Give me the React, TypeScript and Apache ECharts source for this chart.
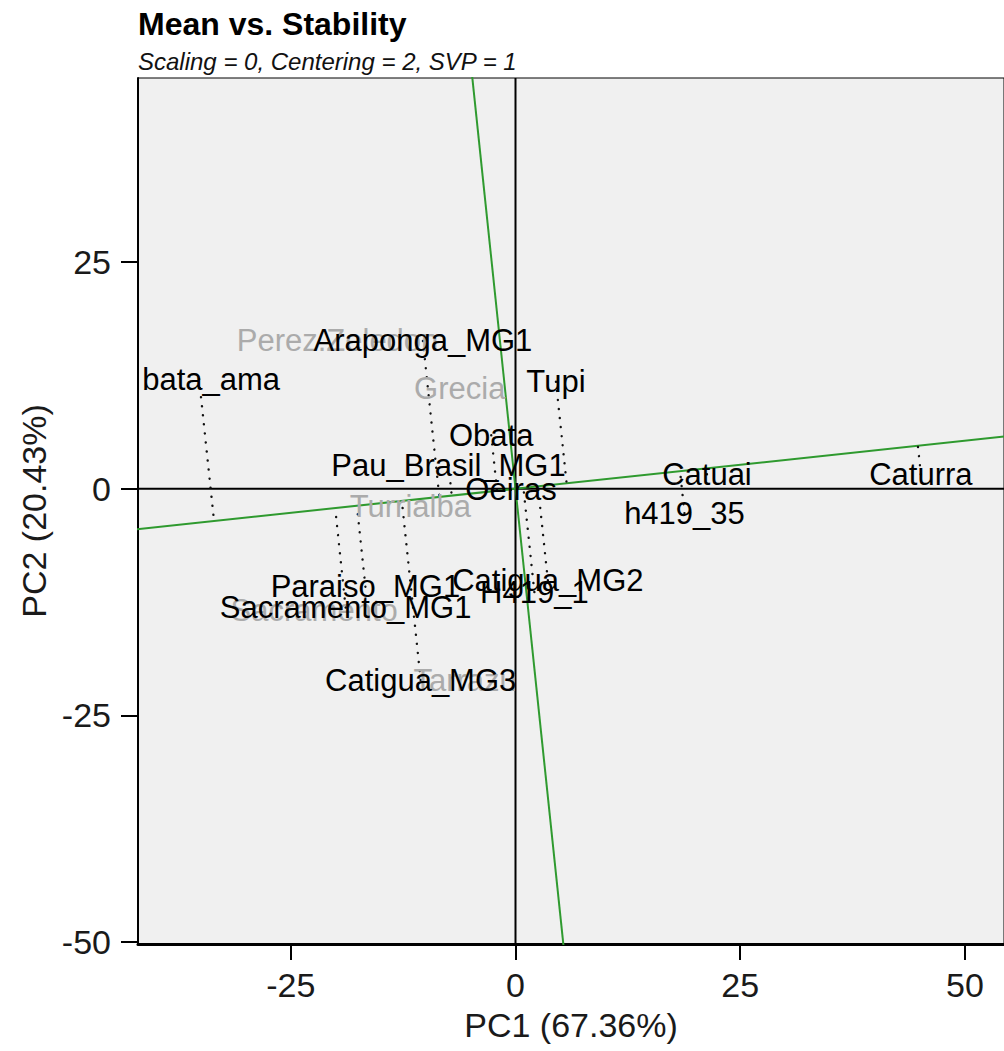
import React, { useEffect, useRef } from "react";
import * as echarts from "echarts";

// ---- Data ----
const genotypes = [
  "Obata_ama", "Araponga_MG1", "Tupi", "Obata", "Pau_Brasil_MG1", "Oeiras",
  "Catuai", "Caturra", "h419_35", "Paraiso_MG1", "Sacramento_MG1",
  "Catigua_MG2", "H419_1", "Catigua_MG3",
];
const genoPC1 = [-35.2, -10.3, 4.5, -2.7, -7.45, -0.5, 21.3, 45.1, 18.8, -16.7, -18.9, 3.6, 2.1, -10.55];
const genoPC2 = [12.1, 16.3, 11.8, 5.9, 2.6, -0.1, 1.6, 1.6, -2.7, -10.8, -13.1, -10.1, -11.4, -21.1];

const environments = ["Perez.Zeledon", "Grecia", "Turrialba", "Sacramento", "Tarrazu"];
const envPC1 = [-19.8, -6.2, -11.7, -22.4, -5.6];
const envPC2 = [16.3, 11.1, -1.9, -13.4, -21.1];

// direction of the average-environment axis (PC1, PC2)
const aeaDirection = [1, 0.106];

const xTicks = [-25, 0, 25, 50];
const yTicks = [-50, -25, 0, 25];
const xRange = [-42, 54.35];
const yRange = [-50.2, 45.3];

const FONT = '"Liberation Sans", Arial, Helvetica, sans-serif';

function project(x: number, y: number) {
  const [dx, dy] = aeaDirection;
  const t = (x * dx + y * dy) / (dx * dx + dy * dy);
  return [t * dx, t * dy];
}

export default function App() {
  const ref = useRef<HTMLDivElement>(null);

  useEffect(() => {
    if (!ref.current) return;
    const chart = echarts.init(ref.current, undefined, { renderer: "svg" });

    const genoData = genotypes.map((_, i) => [genoPC1[i], genoPC2[i]]);
    const envData = environments.map((_, i) => [envPC1[i], envPC2[i]]);
    const [dx, dy] = aeaDirection;
    const far = 500;

    const labelSeries = (names: string[], data: number[][], color: string, z: number) => ({
      type: "custom",
      clip: true,
      z,
      silent: true,
      encode: { x: 0, y: 1 },
      data,
      renderItem: (params: any, api: any) => {
        const p = api.coord([api.value(0), api.value(1)]);
        const cs = params.coordSys;
        return {
          type: "group",
          clipPath: { type: "rect", shape: { x: cs.x + 4, y: cs.y, width: cs.width, height: cs.height } },
          children: [
            {
              type: "text",
              x: p[0],
              y: p[1],
              style: {
                text: names[params.dataIndex],
                fill: color,
                fontSize: 31,
                fontFamily: FONT,
                align: "center",
                verticalAlign: "middle",
              },
            },
          ],
        };
      },
    });

    const option: any = {
      animation: false,
      backgroundColor: "#ffffff",
      title: [
        {
          text: "Mean vs. Stability",
          left: 138,
          top: 8,
          padding: 0,
          textStyle: { fontFamily: FONT, fontWeight: "bold", fontSize: 32, color: "#000" },
        },
        {
          text: "Scaling = 0, Centering = 2, SVP = 1",
          left: 138,
          top: 49,
          padding: 0,
          textStyle: { fontFamily: FONT, fontStyle: "italic", fontWeight: "normal", fontSize: 24, color: "#111" },
        },
      ],
      grid: {
        left: 138,
        top: 78,
        width: 870,
        height: 866,
        show: true,
        backgroundColor: "#F0F0F0",
        borderColor: "#000",
        borderWidth: 1,
        containLabel: false,
      },
      xAxis: {
        type: "value",
        min: xRange[0],
        max: xRange[1],
        name: "PC1 (67.36%)",
        nameLocation: "middle",
        nameGap: 64,
        nameTextStyle: { fontFamily: FONT, fontSize: 34, color: "#1a1a1a" },
        axisLine: { show: true, onZero: false, lineStyle: { color: "#000", width: 3 } },
        axisTick: { show: true, inside: false, length: 16, customValues: xTicks, lineStyle: { color: "#000", width: 2 } },
        axisLabel: { show: true, customValues: xTicks, margin: 24, fontFamily: FONT, fontSize: 34, color: "#1a1a1a" },
        splitLine: { show: false },
      },
      yAxis: {
        type: "value",
        min: yRange[0],
        max: yRange[1],
        name: "PC2 (20.43%)",
        nameLocation: "middle",
        nameGap: 74,
        nameRotate: 90,
        nameTextStyle: { fontFamily: FONT, fontSize: 34, color: "#1a1a1a" },
        axisLine: { show: true, onZero: false, lineStyle: { color: "#000", width: 2 } },
        axisTick: { show: true, inside: false, length: 17, customValues: yTicks, lineStyle: { color: "#000", width: 2 } },
        axisLabel: { show: true, customValues: yTicks, margin: 27, fontFamily: FONT, fontSize: 34, color: "#1a1a1a" },
        splitLine: { show: false },
      },
      series: [
        {
          type: "line",
          symbol: "none",
          silent: true,
          z: 2,
          data: [[xRange[0], 0], [xRange[1], 0]],
          lineStyle: { color: "#000", width: 2 },
        },
        {
          type: "line",
          symbol: "none",
          silent: true,
          z: 2,
          data: [[0, yRange[0]], [0, yRange[1]]],
          lineStyle: { color: "#000", width: 2 },
        },
        {
          type: "line",
          symbol: "none",
          silent: true,
          z: 3,
          clip: true,
          data: [[-far * dx, -far * dy], [far * dx, far * dy]],
          lineStyle: { color: "#2f9a2f", width: 2 },
        },
        {
          type: "line",
          symbol: "none",
          silent: true,
          z: 3,
          clip: true,
          data: [[far * dy, -far * dx], [-far * dy, far * dx]],
          lineStyle: { color: "#2f9a2f", width: 2 },
        },
        {
          type: "custom",
          clip: true,
          z: 4,
          silent: true,
          encode: { x: 0, y: 1 },
          data: genoData,
          renderItem: (params: any, api: any) => {
            const x = api.value(0);
            const y = api.value(1);
            const f = project(x, y);
            const p1 = api.coord([x, y]);
            const p2 = api.coord(f);
            return {
              type: "line",
              shape: { x1: p1[0], y1: p1[1], x2: p2[0], y2: p2[1] },
              style: { stroke: "#111", lineWidth: 2.4, lineDash: [0.1, 9], lineCap: "round" },
            };
          },
        },
        labelSeries(environments, envData, "#ababab", 5),
        labelSeries(genotypes, genoData, "#000000", 6),
      ],
    };

    chart.setOption(option);
    return () => chart.dispose();
  }, []);

  return (
    <div
      ref={ref}
      style={{ position: "absolute", left: 0, top: 0, width: 1004, height: 1051, overflow: "hidden" }}
    />
  );
}
